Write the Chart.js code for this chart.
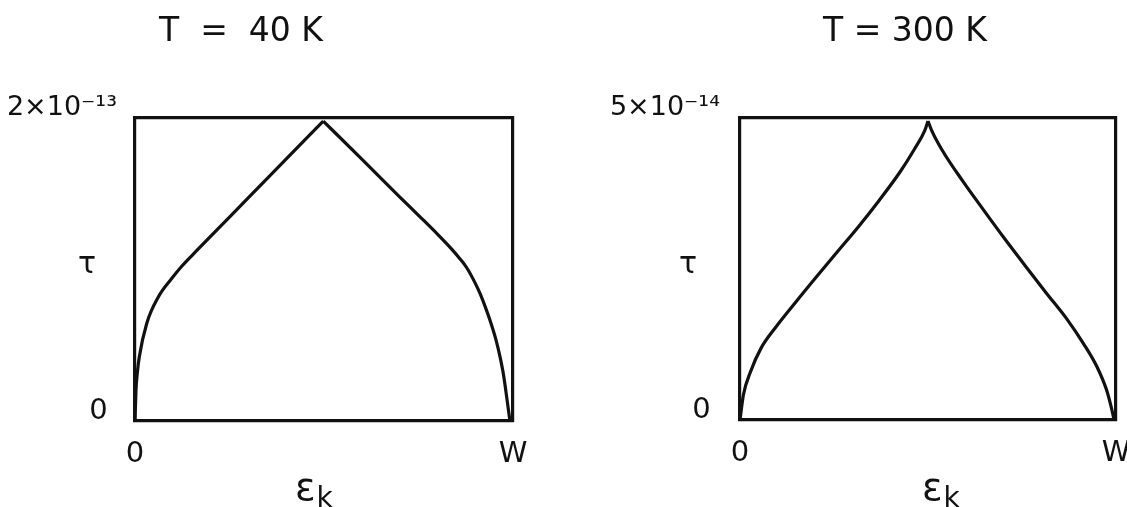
<!DOCTYPE html>
<html>
<head>
<meta charset="utf-8">
<title>Relaxation time vs energy</title>
<script src="https://cdn.jsdelivr.net/npm/chart.js@4.4.1/dist/chart.umd.min.js"></script>
<style>
  html, body { margin: 0; padding: 0; background: #fff; }
  body { width: 1127px; height: 507px; position: relative; overflow: hidden; }
  .panel { position: absolute; top: 0; height: 507px; }
  #panel40 { left: 0; width: 560px; }
  #panel300 { left: 560px; width: 600px; }
</style>
</head>
<body>
<div class="panel" id="panel40"><canvas id="chart40"></canvas></div>
<div class="panel" id="panel300"><canvas id="chart300"></canvas></div>
<script>
// energy eps_k in units of the band width W, tau in units of 1e-14 s
// each curve is split at its cusp so the peak stays sharp

// T = 40 K
const eps40Rise = [0, 0.0026, 0.006, 0.0114, 0.031, 0.062, 0.097, 0.123, 0.163, 0.25, 0.35, 0.498];
const tau40Rise = [0, 2.04, 3.14, 4.24, 6.44, 8.2, 9.4, 10.2, 11.24, 13.46, 16.02, 19.8];
const eps40Fall = [0.498, 0.6, 0.7, 0.754, 0.8, 0.833, 0.86, 0.878, 0.9, 0.913, 0.93, 0.943, 0.955, 0.966, 0.975, 0.981, 0.987, 0.992];
const tau40Fall = [19.8, 17.28, 14.8, 13.48, 12.34, 11.48, 10.7, 10.1, 9.1, 8.4, 7.3, 6.36, 5.36, 4.2, 3.04, 2.0, 0.9, 0];

// T = 300 K
const eps300Rise = [0, 0.009, 0.028, 0.056, 0.093, 0.148, 0.204, 0.259, 0.315, 0.370, 0.426, 0.463, 0.491, 0.5];
const tau300Rise = [0, 0.415, 0.8, 1.19, 1.52, 1.95, 2.375, 2.785, 3.2, 3.635, 4.11, 4.475, 4.785, 4.95];
const eps300Fall = [0.5, 0.509, 0.537, 0.593, 0.648, 0.704, 0.759, 0.815, 0.869, 0.913, 0.949, 0.975, 0.987, 0.995];
const tau300Fall = [4.95, 4.805, 4.475, 3.95, 3.475, 3.0, 2.55, 2.1, 1.675, 1.27, 0.885, 0.495, 0.22, 0];

// axis ends and their labels
const xTickLabels = ['0', 'W'];
const yMax40 = 20, yTop40 = '2×10⁻¹³';
const yMax300 = 5, yTop300 = '5×10⁻¹⁴';

const ink = '#111';
const font = '"DejaVu Sans", sans-serif';

// titles, tau and eps_k drawn as plain text on the canvas
const panelText = {
  id: 'panelText',
  afterDraw(chart, args, opts) {
    const ctx = chart.ctx;
    const area = chart.chartArea;
    ctx.save();
    ctx.fillStyle = ink;
    ctx.textAlign = 'center';
    ctx.textBaseline = 'middle';
    ctx.font = '33px ' + font;
    ctx.fillText(opts.title, opts.titleX, 32);
    ctx.font = '30px ' + font;
    ctx.fillText('τ', opts.tauX, (area.top + area.bottom) / 2 - 4);

    ctx.textAlign = 'left';
    ctx.textBaseline = 'alphabetic';
    ctx.font = '38px ' + font;
    ctx.fillText('ε', opts.epsX, 500);
    const w = ctx.measureText('ε').width;
    ctx.font = '28px ' + font;
    ctx.fillText('k', opts.epsX + w + 1, 507);
    ctx.restore();
  }
};

function toPoints(xs, ys) {
  return xs.map((x, i) => ({ x: x, y: ys[i] }));
}

function curve(xs, ys) {
  return {
    data: toPoints(xs, ys),
    borderColor: ink,
    borderWidth: 3.2,
    pointRadius: 0,
    cubicInterpolationMode: 'monotone',
    fill: false
  };
}

function frameAxis(position, size) {
  return {
    type: 'linear',
    position: position,
    min: 0,
    max: 1,
    grid: { display: false, drawTicks: false },
    ticks: { display: false },
    border: { display: true, color: ink, width: 3.2 },
    afterFit: function (s) {
      if (position === 'top') s.height = size; else s.width = size;
    }
  };
}

function makePanel(id, rise, fall, yMax, yTop, box, text) {
  return new Chart(document.getElementById(id), {
    type: 'line',
    data: {
      datasets: [curve(rise[0], rise[1]), curve(fall[0], fall[1])]
    },
    options: {
      responsive: true,
      maintainAspectRatio: false,
      animation: false,
      layout: { padding: 0 },
      plugins: {
        legend: { display: false },
        tooltip: { enabled: false },
        panelText: text
      },
      scales: {
        x: {
          type: 'linear',
          position: 'bottom',
          min: 0,
          max: 1,
          afterBuildTicks: s => { s.ticks = [{ value: 0 }, { value: 1 }]; },
          afterFit: s => { s.height = box.bottom; },
          grid: { display: false, drawTicks: false },
          border: { display: true, color: ink, width: 3.2 },
          ticks: {
            callback: (v, i) => xTickLabels[i],
            padding: 16,
            maxRotation: 0,
            autoSkip: false,
            color: ink,
            font: { family: font, size: 29 }
          }
        },
        y: {
          type: 'linear',
          position: 'left',
          min: 0,
          max: yMax,
          afterBuildTicks: s => { s.ticks = [{ value: 0 }, { value: yMax }]; },
          afterFit: s => { s.width = box.left; },
          grid: { display: false, drawTicks: false },
          border: { display: true, color: ink, width: 3.2 },
          ticks: {
            // trailing space keeps the zero a little further from the frame
            callback: v => (v === 0 ? '0 ' : yTop),
            padding: box.tickPad,
            labelOffset: -10,
            autoSkip: false,
            color: ink,
            font: c => ({ family: font, size: c.tick && c.tick.value !== 0 ? 27 : 29 })
          }
        },
        x2: frameAxis('top', box.top),
        y2: frameAxis('right', box.right)
      }
    },
    plugins: [panelText]
  });
}

makePanel('chart40', [eps40Rise, tau40Rise], [eps40Fall, tau40Fall], yMax40, yTop40,
  { left: 135, right: 47, top: 118, bottom: 86, tickPad: 18 },
  { title: 'T  =  40 K', titleX: 241, tauX: 87, epsX: 295 });

makePanel('chart300', [eps300Rise, tau300Rise], [eps300Fall, tau300Fall], yMax300, yTop300,
  { left: 180, right: 44, top: 118, bottom: 87, tickPad: 20 },
  { title: 'T = 300 K', titleX: 345, tauX: 128, epsX: 362 });
</script>
</body>
</html>
